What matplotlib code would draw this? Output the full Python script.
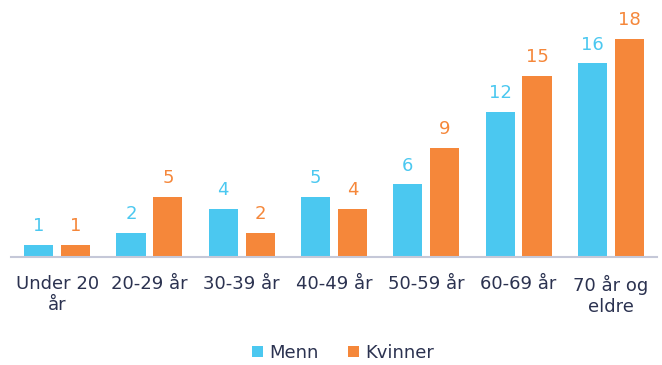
import matplotlib
matplotlib.use("Agg")
import matplotlib.pyplot as plt
import numpy as np

categories = ["Under 20\når", "20-29 år", "30-39 år", "40-49 år", "50-59 år", "60-69 år", "70 år og\neldre"]
menn = [1, 2, 4, 5, 6, 12, 16]
kvinner = [1, 5, 2, 4, 9, 15, 18]
series_names = ["Menn", "Kvinner"]

c_menn = "#4BC8F0"
c_kvinner = "#F5873A"
text_color = "#2B3250"

plt.rcParams['font.family'] = ['DejaVu Sans']

fig = plt.figure(figsize=(6.62, 3.65), dpi=100)
ax = fig.add_axes([11/662, 1 - 257/365, 646/662, 247/365])

x = np.arange(len(categories))
w = 0.315
off = 0.2
b1 = ax.bar(x - off, menn, w, color=c_menn, label=series_names[0])
b2 = ax.bar(x + off, kvinner, w, color=c_kvinner, label=series_names[1])

for bars, vals, col in [(b1, menn, c_menn), (b2, kvinner, c_kvinner)]:
    for r, v in zip(bars, vals):
        ax.annotate(str(v), (r.get_x() + r.get_width() / 2, v), xytext=(0, 7),
                    textcoords="offset points", ha="center", va="bottom",
                    fontsize=13, color=col)

ax.set_xlim(-0.5, len(categories) - 0.5)
ax.set_ylim(0, 247 / 12.1)
ax.set_xticks(x)
ax.set_xticklabels(categories, fontsize=13, color=text_color, linespacing=1.2)
ax.tick_params(axis="x", length=0, pad=13)
ax.set_yticks([])
for s in ["top", "right", "left"]:
    ax.spines[s].set_visible(False)
ax.spines["bottom"].set_color("#C5C8D8")
ax.spines["bottom"].set_linewidth(1.5)

leg = fig.legend(handles=[b1, b2], labels=series_names, loc="center",
                 bbox_to_anchor=(343/662, 1 - 353/365), ncol=2, frameon=False,
                 fontsize=13, handlelength=0.6, handleheight=0.6, handletextpad=0.35,
                 columnspacing=1.6)
for t in leg.get_texts():
    t.set_color(text_color)

fig.savefig("out.png", dpi=100)
